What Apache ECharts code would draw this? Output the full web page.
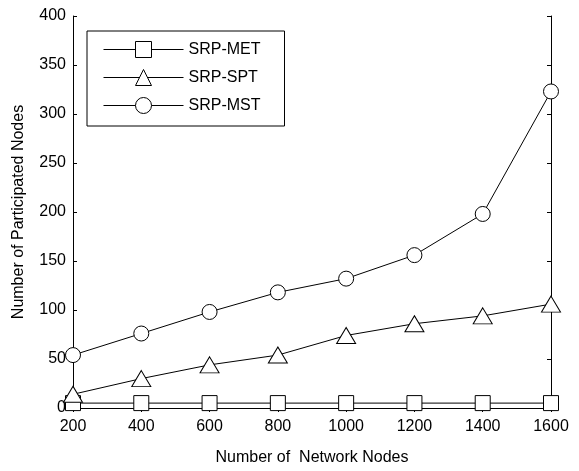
<!DOCTYPE html>
<html>
<head>
<meta charset="utf-8">
<script src="https://cdn.jsdelivr.net/npm/echarts@6/dist/echarts.min.js"></script>
<style>
  html, body { margin: 0; padding: 0; background: #fff; }
  #chart { width: 579px; height: 471px; }
</style>
</head>
<body>
<div id="chart"></div>
<script>
const nodes = [200, 400, 600, 800, 1000, 1200, 1400, 1600];
const srpMet = [5, 5, 5, 5, 5, 5, 5, 5];
const srpSpt = [14, 30, 44, 54, 74, 86, 94, 106];
const srpMst = [54, 76, 98, 118, 132, 156, 198, 323];

const font = 'Liberation Sans, Arial, sans-serif';
const black = '#000000';

const pairs = (ys) => nodes.map((x, i) => [x, ys[i]]);

const axisBase = {
  axisLine: { show: true, lineStyle: { color: black, width: 1 } },
  axisTick: { show: true, inside: true, length: 4, lineStyle: { color: black } },
  splitLine: { show: false },
};

const lineSeries = (name, data, symbol, symbolSize) => ({
  name,
  type: 'line',
  data: pairs(data),
  symbol,
  symbolSize,
  showAllSymbol: true,
  lineStyle: { color: black, width: 1 },
  itemStyle: { color: '#fff', borderColor: black, borderWidth: 1 },
  emphasis: { disabled: true },
  animation: false,
});

const chart = echarts.init(document.getElementById('chart'));
chart.setOption({
  backgroundColor: '#ffffff',
  textStyle: { fontFamily: font },
  grid: { left: 73, right: 28, top: 16, bottom: 61 },
  legend: {
    orient: 'vertical',
    left: 87,
    top: 31,
    padding: [10, 24, 12, 16],
    itemWidth: 80,
    itemHeight: 20,
    itemGap: 11,
    textStyle: { fontFamily: font, fontSize: 16, color: black },
    lineStyle: { width: 1 },
    itemStyle: { borderWidth: 1 },
    borderColor: black,
    borderWidth: 1,
    backgroundColor: '#fff',
    data: ['SRP-MET', 'SRP-SPT', 'SRP-MST'],
  },
  xAxis: [
    {
      type: 'value',
      min: 200,
      max: 1600,
      interval: 200,
      position: 'bottom',
      name: 'Number of  Network Nodes',
      nameLocation: 'middle',
      nameGap: 42,
      nameTextStyle: { fontFamily: font, fontSize: 16, color: black },
      axisLabel: { fontFamily: font, fontSize: 16, color: black, margin: 11, formatter: (v) => String(v) },
      ...axisBase,
    },
    {
      type: 'value',
      min: 200,
      max: 1600,
      interval: 200,
      position: 'top',
      axisLabel: { show: false },
      ...axisBase,
    },
  ],
  yAxis: [
    {
      type: 'value',
      min: 0,
      max: 400,
      interval: 50,
      position: 'left',
      name: 'Number of Participated Nodes',
      nameLocation: 'middle',
      nameGap: 46,
      nameTextStyle: { fontFamily: font, fontSize: 16, color: black },
      axisLabel: { fontFamily: font, fontSize: 16, color: black, margin: 7 },
      ...axisBase,
    },
    {
      type: 'value',
      min: 0,
      max: 400,
      interval: 50,
      position: 'right',
      axisLabel: { show: false },
      ...axisBase,
    },
  ],
  series: [
    lineSeries('SRP-MET', srpMet, 'rect', 15),
    lineSeries('SRP-SPT', srpSpt, 'triangle', [19, 16]),
    lineSeries('SRP-MST', srpMst, 'circle', 15),
  ],
});
</script>
</body>
</html>
